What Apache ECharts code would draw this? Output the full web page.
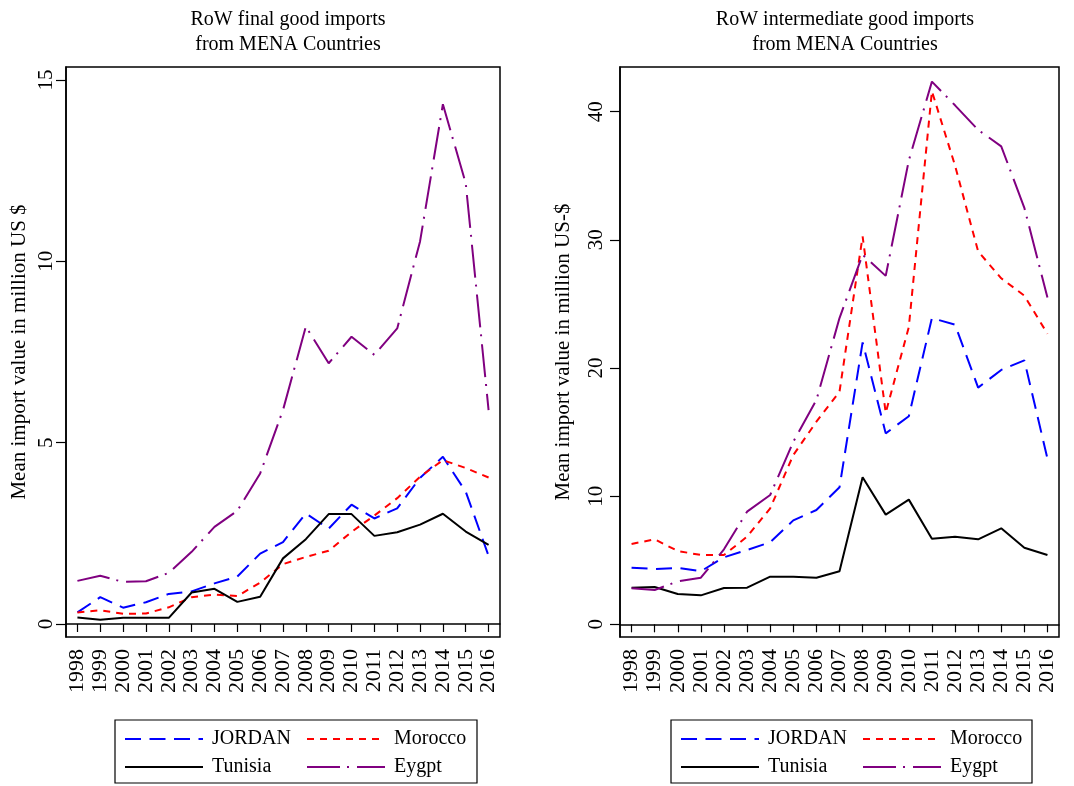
<!DOCTYPE html>
<html>
<head>
<meta charset="utf-8">
<script src="https://cdn.jsdelivr.net/npm/echarts@6/dist/echarts.min.js"></script>
<style>html,body{margin:0;padding:0;background:#fff}#c{width:1074px;height:786px}</style>
</head>
<body>
<div id="c"></div>
<script>
var years = ['1998','1999','2000','2001','2002','2003','2004','2005','2006','2007','2008','2009','2010','2011','2012','2013','2014','2015','2016'];

// Left panel: RoW final good imports (million US $)
var finalJordan  = [0.32,0.74,0.45,0.60,0.83,0.90,1.12,1.31,1.94,2.26,3.05,2.63,3.29,2.91,3.19,4.03,4.61,3.65,1.88];
var finalMorocco = [0.32,0.38,0.28,0.29,0.46,0.74,0.81,0.77,1.14,1.65,1.85,2.02,2.54,2.99,3.47,4.06,4.52,4.30,4.04];
var finalTunisia = [0.18,0.12,0.17,0.17,0.17,0.87,0.97,0.61,0.75,1.81,2.34,3.03,3.03,2.43,2.53,2.74,3.04,2.55,2.18];
var finalEgypt   = [1.19,1.33,1.16,1.18,1.41,1.99,2.68,3.12,4.15,5.90,8.20,7.19,7.92,7.42,8.15,10.55,14.33,12.15,5.90];

// Right panel: RoW intermediate good imports (million US-$)
var interJordan  = [4.42,4.32,4.40,4.14,5.23,5.80,6.40,8.11,8.92,10.69,22.0,14.9,16.24,23.9,23.38,18.47,19.85,20.6,12.93];
var interMorocco = [6.27,6.63,5.72,5.41,5.41,6.84,9.05,13.21,15.81,18.15,30.28,16.5,23.2,41.6,35.8,29.1,27.0,25.65,22.67];
var interTunisia = [2.86,2.91,2.37,2.26,2.83,2.86,3.72,3.72,3.64,4.14,11.47,8.56,9.73,6.68,6.84,6.63,7.49,5.98,5.41];
var interEgypt   = [2.81,2.68,3.35,3.64,5.85,8.79,10.09,14.25,17.50,23.9,28.84,27.19,36.2,42.35,40.5,38.58,37.3,32.5,25.5];

var leftTicks  = [0,5,10,15];
var rightTicks = [0,10,20,30,40];
var seriesNames = ['JORDAN','Morocco','Tunisia','Eygpt'];
var titles = ['RoW final good imports\nfrom MENA Countries','RoW intermediate good imports\nfrom MENA Countries'];
var yNames = ['Mean import value in million US $','Mean import value in million US-$'];

var FONT = '"Liberation Serif", "Times New Roman", serif';
var styles = {
  'JORDAN':  {color:'#0000ff', type:[16,8.5]},
  'Morocco': {color:'#ff0000', type:[7,6]},
  'Tunisia': {color:'#000000', type:'solid'},
  'Eygpt':   {color:'#800080', type:[33,7,2,8]}
};

function mkSeries(name, data, idx){
  var s = styles[name];
  return {
    name: name, type:'line', data: data, xAxisIndex: idx, yAxisIndex: idx,
    symbol:'none', smooth:false, animation:false,
    lineStyle:{color:s.color, width:2, type:s.type},
    itemStyle:{color:s.color}
  };
}

function mkX(idx){
  return {
    type:'category', data: years, gridIndex: idx, boundaryGap:true,
    axisLine:{show:true, lineStyle:{color:'#000', width:1.5}},
    axisTick:{show:true, alignWithLabel:true, length:8, lineStyle:{color:'#000', width:1.2}},
    axisLabel:{rotate:90, margin:12, color:'#000', fontSize:22, fontFamily:FONT, interval:0},
    splitLine:{show:false}
  };
}
function mkY(idx, min, max, ticks, name, gap, lmargin){
  return {
    type:'value', gridIndex: idx, min:min, max:max,
    name: name, nameLocation:'middle', nameGap: gap, nameRotate:90,
    nameTextStyle:{color:'#000', fontSize:21, fontFamily:FONT},
    axisLine:{show:true, lineStyle:{color:'#000', width:1.5}},
    axisTick:{show:true, length:10, customValues: ticks, lineStyle:{color:'#000', width:1.2}},
    axisLabel:{rotate:90, margin:lmargin, color:'#000', fontSize:21, fontFamily:FONT, customValues: ticks},
    splitLine:{show:false}
  };
}
function mkLegend(left, top){
  return {
    left: left, top: top, width: 370, orient:'horizontal',
    itemWidth:78, itemHeight:14, itemGap:8, padding:0,
    data: seriesNames,
    selectedMode:false,
    itemStyle:{opacity:0},
    textStyle:{color:'#000', fontSize:20, fontFamily:FONT, width:86, lineHeight:20, padding:[0,0,0,4]}
  };
}

var chart = echarts.init(document.getElementById('c'), null, {renderer:'canvas'});
chart.setOption({
  backgroundColor:'#fff',
  animation:false,
  title:[
    {text: titles[0], left:283, top:2, textAlign:'center',
     textStyle:{color:'#000', fontSize:20, fontWeight:'normal', fontFamily:FONT, lineHeight:25}},
    {text: titles[1], left:840, top:2, textAlign:'center',
     textStyle:{color:'#000', fontSize:20, fontWeight:'normal', fontFamily:FONT, lineHeight:25}}
  ],
  grid:[
    {left:66, top:67, width:434, height:570, show:true, borderColor:'#000', borderWidth:1.5, containLabel:false},
    {left:620, top:67, width:439, height:570, show:true, borderColor:'#000', borderWidth:1.5, containLabel:false}
  ],
  xAxis:[mkX(0), mkX(1)],
  yAxis:[
    mkY(0, -0.358, 15.358, leftTicks, yNames[0], 36, 9),
    mkY(1, -0.99, 43.49, rightTicks, yNames[1], 46, 13)
  ],
  legend:[mkLegend(124, 729), mkLegend(680, 729)],
  graphic:[
    {type:'rect', shape:{x:115, y:720, width:362, height:63}, style:{fill:'none', stroke:'#000', lineWidth:1.2}, silent:true},
    {type:'rect', shape:{x:671, y:720, width:361, height:63}, style:{fill:'none', stroke:'#000', lineWidth:1.2}, silent:true}
  ],
  series:[
    mkSeries('JORDAN', finalJordan, 0),
    mkSeries('Morocco', finalMorocco, 0),
    mkSeries('Tunisia', finalTunisia, 0),
    mkSeries('Eygpt', finalEgypt, 0),
    mkSeries('JORDAN', interJordan, 1),
    mkSeries('Morocco', interMorocco, 1),
    mkSeries('Tunisia', interTunisia, 1),
    mkSeries('Eygpt', interEgypt, 1)
  ]
});
</script>
</body>
</html>
